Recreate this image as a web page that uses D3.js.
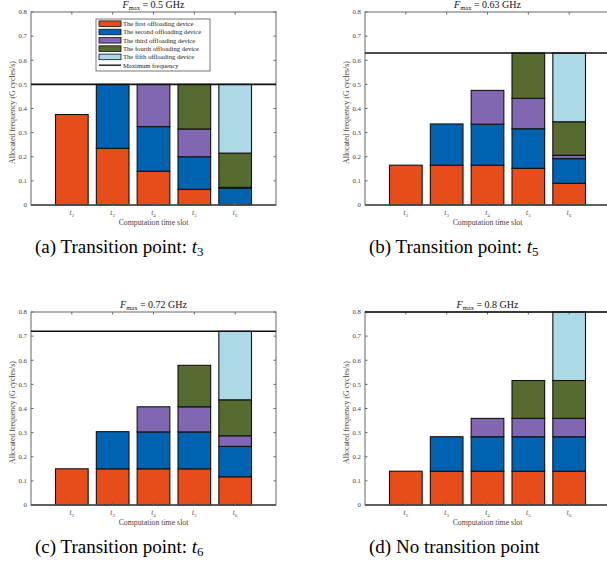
<!DOCTYPE html>
<html>
<head>
<meta charset="utf-8">
<script src="https://cdn.jsdelivr.net/npm/d3@7"></script>
<style>
  body { margin: 0; background: #fff; }
  svg { display: block; }
</style>
</head>
<body>
<svg width="607" height="574"></svg>
<script>
const svg = d3.select('svg')
  .attr('font-family', "'Liberation Serif', 'Times New Roman', serif");

// Data
const slots = ['2', '3', '4', '5', '6'];
const devices = [
  'The first offloading device',
  'The second offloading device',
  'The third offloading device',
  'The fourth offloading device',
  'The fifth offloading device'
];
const deviceColors = ['#E64D1B', '#0063B1', '#8166B2', '#556B2F', '#ADD8E6'];
const yTicks = [0, 0.1, 0.2, 0.3, 0.4, 0.5, 0.6, 0.7, 0.8];

// rows = time slots t2..t6, columns = devices 1..5
const allocA = [
  [0.375, 0, 0, 0, 0],
  [0.235, 0.265, 0, 0, 0],
  [0.14, 0.185, 0.175, 0, 0],
  [0.065, 0.135, 0.115, 0.185, 0],
  [0, 0.07, 0.003, 0.142, 0.285]
];
const allocB = [
  [0.165, 0, 0, 0, 0],
  [0.165, 0.171, 0, 0, 0],
  [0.165, 0.17, 0.14, 0, 0],
  [0.152, 0.164, 0.126, 0.188, 0],
  [0.09, 0.102, 0.014, 0.139, 0.285]
];
const allocC = [
  [0.15, 0, 0, 0, 0],
  [0.15, 0.154, 0, 0, 0],
  [0.15, 0.153, 0.104, 0, 0],
  [0.15, 0.153, 0.104, 0.172, 0],
  [0.117, 0.126, 0.044, 0.149, 0.284]
];
const allocD = [
  [0.14, 0, 0, 0, 0],
  [0.14, 0.143, 0, 0, 0],
  [0.14, 0.143, 0.076, 0, 0],
  [0.14, 0.143, 0.076, 0.157, 0],
  [0.14, 0.143, 0.076, 0.157, 0.284]
];
const fmaxValues = [0.5, 0.63, 0.72, 0.8];
const fmaxLabels = ['0.5', '0.63', '0.72', '0.8'];
const captionLetters = ['(a)', '(b)', '(c)', '(d)'];
const captionSlots = ['3', '5', '6', null];

const panels = [
  { data: allocA, left: 31,  top: 12,  legend: true },
  { data: allocB, left: 365, top: 12 },
  { data: allocC, left: 31,  top: 312 },
  { data: allocD, left: 365, top: 312 }
];

const PW = 245, PH = 193;
const axisGray = '#666';

panels.forEach((p, pi) => {
  const g = svg.append('g');
  const x = d3.scaleLinear().domain([1, 7]).range([p.left, p.left + PW]);
  const y = d3.scaleLinear().domain([0, 0.8]).range([p.top + PH, p.top]);
  const bw = x(1.8) - x(1);

  // stacked bars
  const rows = p.data.map((r, i) => {
    const o = { slot: +slots[i] };
    r.forEach((v, j) => o['d' + j] = v);
    return o;
  });
  const stack = d3.stack().keys(devices.map((d, j) => 'd' + j))(rows);
  stack.forEach((layer, j) => {
    g.append('g').selectAll('rect')
      .data(layer.filter(s => s[1] - s[0] > 0))
      .join('rect')
      .attr('x', s => x(s.data.slot) - bw / 2)
      .attr('width', bw)
      .attr('y', s => y(s[1]))
      .attr('height', s => y(s[0]) - y(s[1]))
      .attr('fill', deviceColors[j])
      .attr('stroke', '#111')
      .attr('stroke-width', 1.1);
  });

  // frame
  g.append('rect')
    .attr('x', p.left).attr('y', p.top)
    .attr('width', PW).attr('height', PH)
    .attr('fill', 'none')
    .attr('stroke', axisGray)
    .attr('stroke-width', 1);
  g.append('line')
    .attr('x1', p.left).attr('x2', p.left + PW)
    .attr('y1', y(0)).attr('y2', y(0))
    .attr('stroke', '#444').attr('stroke-width', 1.5);

  // inward ticks
  slots.forEach(s => {
    g.append('line').attr('x1', x(+s)).attr('x2', x(+s))
      .attr('y1', y(0)).attr('y2', y(0) - 2.5).attr('stroke', axisGray);
    g.append('line').attr('x1', x(+s)).attr('x2', x(+s))
      .attr('y1', y(0.8)).attr('y2', y(0.8) + 2.5).attr('stroke', axisGray);
  });
  yTicks.forEach(t => {
    g.append('line').attr('x1', p.left).attr('x2', p.left + 2.5)
      .attr('y1', y(t)).attr('y2', y(t)).attr('stroke', axisGray);
    g.append('line').attr('x1', p.left + PW).attr('x2', p.left + PW - 2.5)
      .attr('y1', y(t)).attr('y2', y(t)).attr('stroke', axisGray);
    g.append('text')
      .attr('x', p.left - 4).attr('y', y(t) + 2.3)
      .attr('text-anchor', 'end')
      .attr('font-size', 6.8).attr('fill', '#444')
      .text(t === 0 ? '0' : d3.format('.1f')(t));
  });

  // x tick labels t_k
  slots.forEach(s => {
    const tx = g.append('text')
      .attr('x', x(+s)).attr('y', y(0) + 10)
      .attr('text-anchor', 'middle')
      .attr('font-size', 7.5).attr('fill', '#555');
    tx.append('tspan').attr('font-style', 'italic').text('t');
    tx.append('tspan').attr('font-size', 5).attr('dy', 1.5).text(s);
  });

  // maximum frequency line
  g.append('line')
    .attr('x1', p.left).attr('x2', p.left + PW)
    .attr('y1', y(fmaxValues[pi])).attr('y2', y(fmaxValues[pi]))
    .attr('stroke', '#111').attr('stroke-width', 1.6);

  // axis labels
  g.append('text')
    .attr('x', p.left + PW / 2).attr('y', y(0) + 20)
    .attr('text-anchor', 'middle')
    .attr('font-size', 7.8).attr('fill', '#444')
    .text('Computation time slot');
  g.append('text')
    .attr('transform', `translate(${p.left - 16},${p.top + PH / 2 + 4}) rotate(-90)`)
    .attr('text-anchor', 'middle')
    .attr('font-size', 7.8).attr('fill', '#444')
    .text('Allocated frequency (G cycles/s)');

  // title
  const title = g.append('text')
    .attr('x', p.left + PW / 2).attr('y', p.top - 4.5)
    .attr('text-anchor', 'middle')
    .attr('font-size', 10).attr('fill', '#111');
  title.append('tspan').attr('font-style', 'italic').text('F');
  title.append('tspan').attr('font-size', 6.5).attr('dy', 2).text('max');
  title.append('tspan').attr('dy', -2).text(' = ' + fmaxLabels[pi] + ' GHz');

  // caption
  const cap = svg.append('text')
    .attr('x', p.left + 4).attr('y', p.top + PH + 47.5)
    .attr('font-size', 19).attr('fill', '#000');
  if (captionSlots[pi]) {
    cap.append('tspan').text(captionLetters[pi] + ' Transition point: ');
    cap.append('tspan').attr('font-style', 'italic').text('t');
    cap.append('tspan').attr('font-size', 13).attr('dy', 3).text(captionSlots[pi]);
  } else {
    cap.text(captionLetters[pi] + ' No transition point');
  }

  // legend
  if (p.legend) {
    const lx = p.left + 65, ly = p.top + 7;
    const lg = g.append('g');
    lg.append('rect')
      .attr('x', lx).attr('y', ly).attr('width', 114).attr('height', 52)
      .attr('fill', '#fff').attr('stroke', '#777').attr('stroke-width', 1);
    const names = devices.concat(['Maximum frequency']);
    names.forEach((n, i) => {
      const ry = ly + 4.7 + i * 8.3;
      if (i < devices.length) {
        lg.append('rect')
          .attr('x', lx + 3).attr('y', ry - 2.8)
          .attr('width', 22).attr('height', 5.6)
          .attr('fill', deviceColors[i]).attr('stroke', '#111').attr('stroke-width', 0.8);
      } else {
        lg.append('line')
          .attr('x1', lx + 3).attr('x2', lx + 25)
          .attr('y1', ry).attr('y2', ry)
          .attr('stroke', '#111').attr('stroke-width', 1.4);
      }
      lg.append('text')
        .attr('x', lx + 27).attr('y', ry + 2.3)
        .attr('font-size', 6.6).attr('fill', '#222')
        .text(n);
    });
  }
});
</script>
</body>
</html>
